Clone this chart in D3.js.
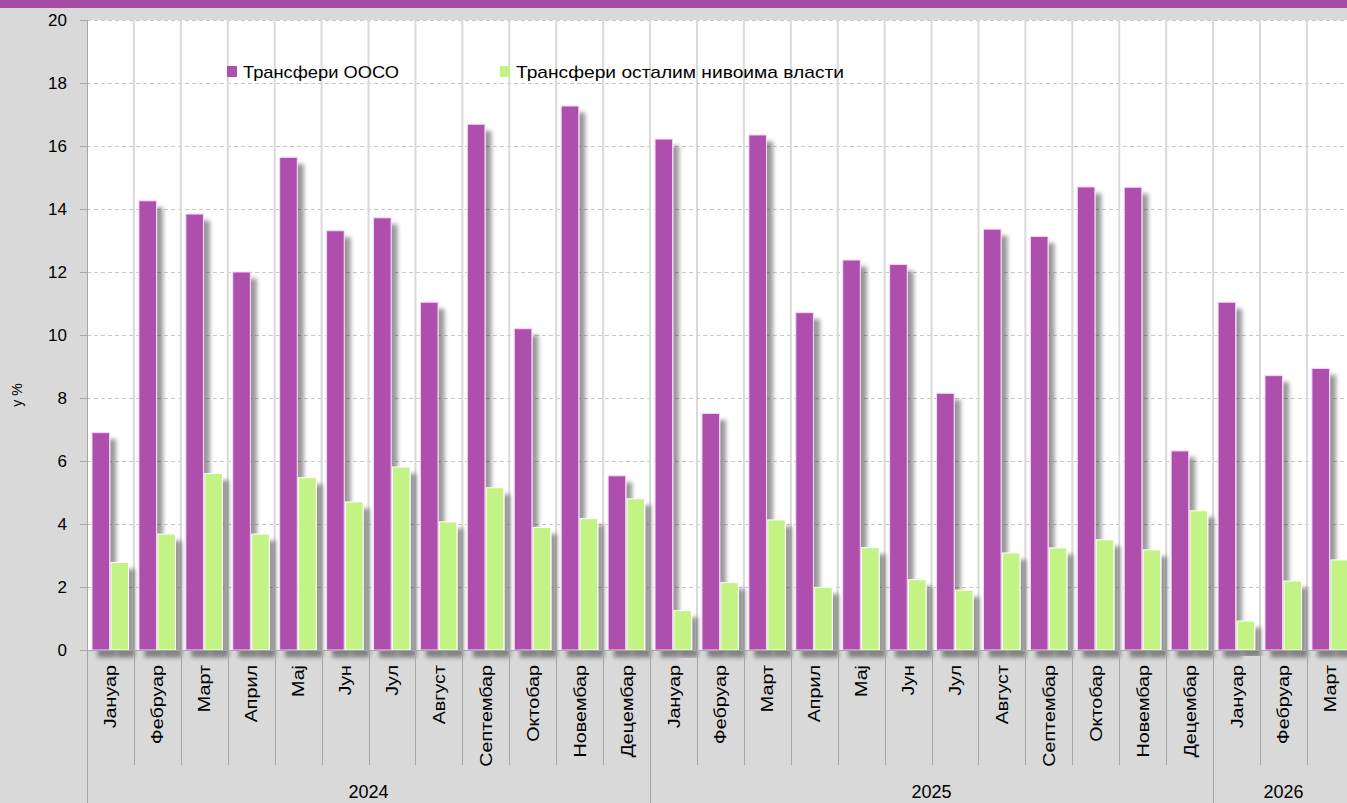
<!DOCTYPE html>
<html>
<head>
<meta charset="utf-8">
<script src="https://cdn.jsdelivr.net/npm/d3@7"></script>
<style>
  html, body { margin: 0; padding: 0; background: #d9d9d9; overflow: hidden; }
  svg { display: block; }
</style>
</head>
<body>
<svg id="chart" width="1347" height="803"></svg>
<script>
// ---- Data ----
const months = ["Јануар","Фебруар","Март","Април","Мај","Јун","Јул","Август","Септембар","Октобар","Новембар","Децембар",
                "Јануар","Фебруар","Март","Април","Мај","Јун","Јул","Август","Септембар","Октобар","Новембар","Децембар",
                "Јануар","Фебруар","Март"];
const yearLabels = ["2024", "2025", "2026"];
const yearSpans = [12, 12, 3];
const seriesNames = ["Трансфери ООСО", "Трансфери осталим нивоима власти"];
const transfersOOSO = [6.9, 14.26, 13.84, 12.0, 15.64, 13.31, 13.72, 11.04, 16.69, 10.2, 17.27, 5.53,
                       16.22, 7.51, 16.35, 10.71, 12.38, 12.24, 8.15, 13.36, 13.13, 14.7, 14.69, 6.32,
                       11.04, 8.71, 8.94];
const transfersOther = [2.78, 3.68, 5.6, 3.68, 5.47, 4.7, 5.81, 4.07, 5.15, 3.89, 4.17, 4.8,
                        1.25, 2.14, 4.13, 1.99, 3.25, 2.23, 1.9, 3.08, 3.24, 3.5, 3.18, 4.42,
                        0.92, 2.19, 2.86];
const yTicks = [0, 2, 4, 6, 8, 10, 12, 14, 16, 18, 20];
const yAxisTitle = "у %";
const colors = ["#ae50ae", "#c3f285"];

// ---- Layout ----
const svg = d3.select("#chart");
const W = 1347, H = 803;
const plotLeft = 87, plotTop = 20, plotBottom = 650;
const bandW = 46.92;
const plotRight = plotLeft + months.length * bandW;
const FONT = "Liberation Sans, Arial, sans-serif";

const x = d3.scaleBand().domain(d3.range(months.length)).range([plotLeft, plotRight]).paddingInner(0).paddingOuter(0);
const xs = d3.scaleBand().domain([0, 1]).range([5, 41.5]).paddingInner(0.07);
const y = d3.scaleLinear().domain([0, 20]).range([plotBottom, plotTop]);

// background
svg.append("rect").attr("x", 0).attr("y", 0).attr("width", W).attr("height", H).attr("fill", "#d9d9d9");
svg.append("rect").attr("x", 0).attr("y", 0).attr("width", W).attr("height", 8).attr("fill", "#a64ea6");
svg.append("rect").attr("x", plotLeft).attr("y", plotTop).attr("width", plotRight - plotLeft).attr("height", plotBottom - plotTop).attr("fill", "#ffffff");

// shadow filter
const defs = svg.append("defs");
const f = defs.append("filter").attr("id", "shadow").attr("x", "-20%").attr("y", "-10%").attr("width", "180%").attr("height", "130%");
f.append("feDropShadow").attr("dx", 6).attr("dy", 7).attr("stdDeviation", 2.2).attr("flood-color", "#000").attr("flood-opacity", 0.4);

// horizontal gridlines
svg.append("g").selectAll("line").data(yTicks.filter(d => d > 0)).join("line")
  .attr("x1", plotLeft).attr("x2", plotRight)
  .attr("y1", d => Math.round(y(d)) + 0.5).attr("y2", d => Math.round(y(d)) + 0.5)
  .attr("stroke", "#c8c8c8").attr("stroke-width", 1).attr("stroke-dasharray", "4,3");

// vertical gridlines at category boundaries
svg.append("g").selectAll("line").data(d3.range(1, months.length)).join("line")
  .attr("x1", d => x(d)).attr("x2", d => x(d))
  .attr("y1", plotTop).attr("y2", plotBottom)
  .attr("stroke", "#d9d9d9").attr("stroke-width", 2);

// bars
const barData = [];
months.forEach((m, i) => {
  barData.push({ i, s: 0, v: transfersOOSO[i] });
  barData.push({ i, s: 1, v: transfersOther[i] });
});
svg.append("g").selectAll("rect").data(barData).join("rect")
  .attr("x", d => x(d.i) + xs(d.s))
  .attr("y", d => y(d.v))
  .attr("width", xs.bandwidth())
  .attr("height", d => y(0) - y(d.v))
  .attr("fill", d => colors[d.s])
  .attr("stroke", d => d.s === 0 ? "#f6d8f6" : "#ffffff")
  .attr("stroke-width", 1)
  .attr("filter", "url(#shadow)");

// y axis
const yAxis = d3.axisLeft(y).tickValues(yTicks).tickSize(7).tickPadding(13).tickFormat(d3.format("d"));
const gy = svg.append("g").attr("transform", `translate(${plotLeft},0)`).call(yAxis);
gy.select(".domain").attr("stroke", "#a6a6a6");
gy.selectAll(".tick line").attr("stroke", "#a6a6a6");
gy.selectAll(".tick text").attr("font-family", FONT).attr("font-size", 17).attr("fill", "#000");

svg.append("text").attr("transform", "translate(22,395) rotate(-90)")
  .attr("text-anchor", "middle").attr("font-family", FONT)
  .attr("font-size", 14).attr("fill", "#000").text(yAxisTitle);

// x axis baseline
svg.append("line").attr("x1", 80).attr("x2", W).attr("y1", plotBottom + 0.5).attr("y2", plotBottom + 0.5)
  .attr("stroke", "#a6a6a6").attr("stroke-width", 1);

// month separators
svg.append("g").selectAll("line").data(d3.range(1, months.length)).join("line")
  .attr("x1", d => Math.round(x(d)) + 0.5).attr("x2", d => Math.round(x(d)) + 0.5)
  .attr("y1", plotBottom).attr("y2", 765)
  .attr("stroke", "#a6a6a6").attr("stroke-width", 1);

// month labels (slightly stretched along their length like the reference)
const monthLabels = svg.append("g").selectAll("text").data(months).join("text")
  .attr("transform", (d, i) => `translate(${x(i) + bandW / 2 + 6},665) rotate(-90)`)
  .attr("text-anchor", "end")
  .attr("font-family", FONT).attr("font-size", 17).attr("fill", "#000")
  .text(d => d);
monthLabels.each(function () {
  const len = this.getComputedTextLength();
  d3.select(this).attr("textLength", len * 1.16).attr("lengthAdjust", "spacingAndGlyphs");
});

// year separators and labels
let start = 0;
const yearBounds = [];
yearSpans.forEach((n, k) => { yearBounds.push({ k, s: start, e: start + n }); start += n; });
svg.append("g").selectAll("line").data(yearBounds).join("line")
  .attr("x1", d => Math.round(x(d.s)) + 0.5).attr("x2", d => Math.round(x(d.s)) + 0.5)
  .attr("y1", plotBottom).attr("y2", H)
  .attr("stroke", "#a6a6a6").attr("stroke-width", 1);
svg.append("g").selectAll("text").data(yearBounds).join("text")
  .attr("x", d => (x(d.s) + (d.e < months.length ? x(d.e) : plotRight)) / 2)
  .attr("y", 798)
  .attr("text-anchor", "middle")
  .attr("font-family", FONT).attr("font-size", 18).attr("fill", "#000")
  .text(d => yearLabels[d.k]);

// legend
const legendPos = [227, 500];
const legendTextLen = [156, 328];
const lg = svg.append("g").selectAll("g").data(seriesNames).join("g")
  .attr("transform", (d, i) => `translate(${legendPos[i]},66)`);
lg.append("rect").attr("width", 10).attr("height", 11).attr("fill", (d, i) => colors[i]);
lg.append("text").attr("x", 16).attr("y", 11.5)
  .attr("font-family", FONT).attr("font-size", 17).attr("fill", "#000")
  .attr("textLength", (d, i) => legendTextLen[i]).attr("lengthAdjust", "spacingAndGlyphs")
  .text(d => d);
</script>
</body>
</html>
